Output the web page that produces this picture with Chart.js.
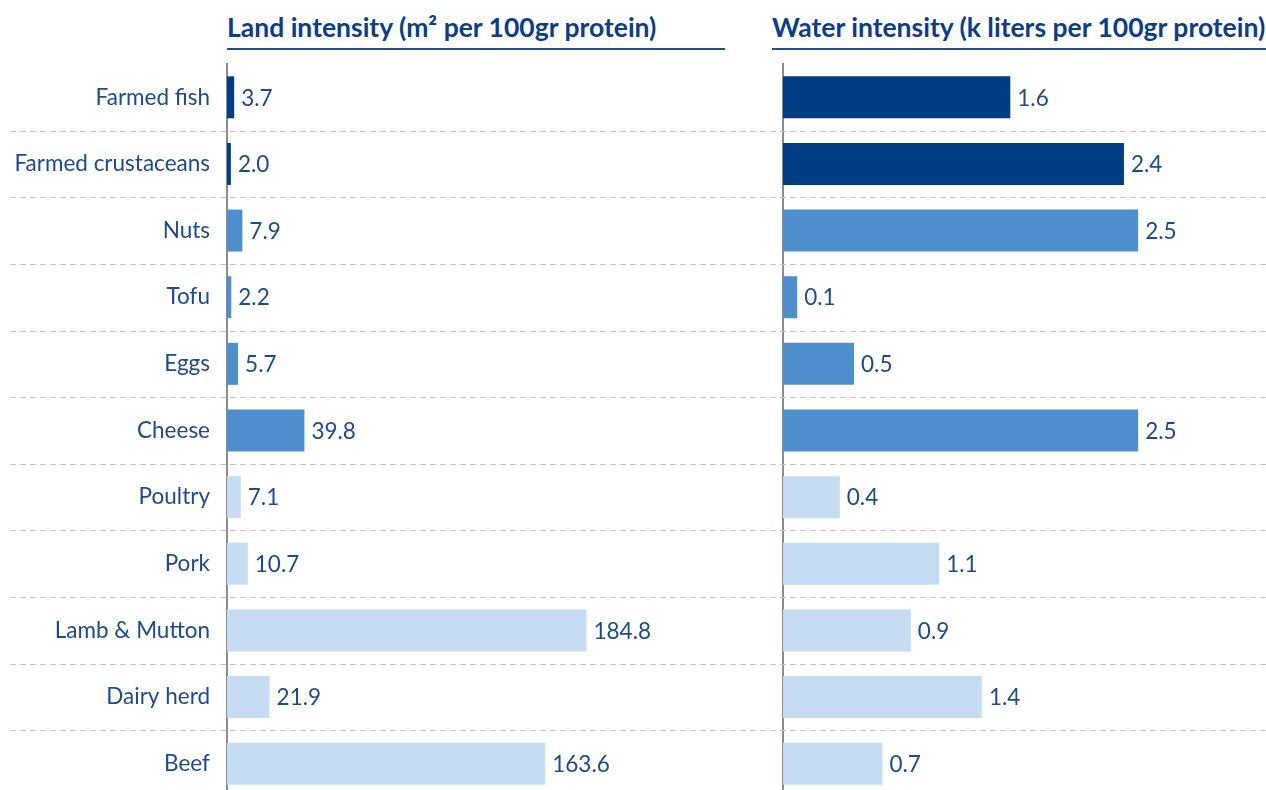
<!DOCTYPE html>
<html>
<head>
<meta charset="utf-8">
<script src="https://cdn.jsdelivr.net/npm/chart.js@4"></script>
<style>
    html, body { margin: 0; padding: 0; background: #ffffff; overflow: hidden; }
    body { width: 1266px; height: 790px; position: relative; font-family: Lato, "Noto Sans", sans-serif; }
    .panel-title {
        position: absolute;
        top: 12px;
        font-size: 26.5px;
        line-height: 30px;
        font-weight: bold;
        color: #0d3d84;
        white-space: nowrap;
        padding-bottom: 6px;
        border-bottom: 2px solid #1f4e8c;
    }
    #landTitle { left: 227px; width: 498px; }
    #waterTitle { left: 772px; width: 494px; }
    .chart-box { position: absolute; top: 0; height: 800px; }
    #landBox { left: 0; width: 770px; }
    #waterBox { left: 770px; width: 496px; }
</style>
</head>
<body>
<div class="panel-title" id="landTitle">Land intensity (m² per 100gr protein)</div>
<div class="panel-title" id="waterTitle">Water intensity (k liters per 100gr protein)</div>
<div class="chart-box" id="landBox"><canvas id="landChart"></canvas></div>
<div class="chart-box" id="waterBox"><canvas id="waterChart"></canvas></div>

<script>
// Food categories, top to bottom
const foods = ['Farmed fish', 'Farmed crustaceans', 'Nuts', 'Tofu', 'Eggs', 'Cheese',
               'Poultry', 'Pork', 'Lamb & Mutton', 'Dairy herd', 'Beef'];
// Which group each food belongs to (drives the bar shade)
const foodGroups = ['aquaculture', 'aquaculture', 'vegetarian', 'vegetarian', 'vegetarian', 'vegetarian',
                    'meat', 'meat', 'meat', 'meat', 'meat'];
// m2 per 100gr protein
const landIntensity = [3.7, 2.0, 7.9, 2.2, 5.7, 39.8, 7.1, 10.7, 184.8, 21.9, 163.6];
// k liters per 100gr protein
const waterIntensity = [1.6, 2.4, 2.5, 0.1, 0.5, 2.5, 0.4, 1.1, 0.9, 1.4, 0.7];

const groupColors = {
    aquaculture: '#003d82',
    vegetarian: '#4e8ecd',
    meat: '#c6dcf3'
};
const textColor = '#1c4a8a';
const labelFont = { family: 'Lato', size: 22.5 };

// Dashed separators between rows, running across the whole canvas
const rowSeparators = {
    id: 'rowSeparators',
    beforeDatasetsDraw(chart, args, opts) {
        const y = chart.scales.y;
        const ctx = chart.ctx;
        ctx.save();
        ctx.strokeStyle = '#c4c4c4';
        ctx.lineWidth = 1;
        ctx.setLineDash([6, 4]);
        for (let i = 0; i < foods.length - 1; i++) {
            const py = Math.round((y.getPixelForValue(i) + y.getPixelForValue(i + 1)) / 2) + 0.5;
            ctx.beginPath();
            ctx.moveTo(opts.startX || 0, py);
            ctx.lineTo(chart.width, py);
            ctx.stroke();
        }
        ctx.restore();
    }
};

// Value labels to the right of each bar
const valueLabels = {
    id: 'valueLabels',
    afterDatasetsDraw(chart) {
        const ctx = chart.ctx;
        const meta = chart.getDatasetMeta(0);
        const values = chart.data.datasets[0].data;
        ctx.save();
        ctx.fillStyle = textColor;
        ctx.font = `${labelFont.size}px ${labelFont.family}`;
        ctx.textAlign = 'left';
        ctx.textBaseline = 'middle';
        meta.data.forEach((bar, i) => {
            ctx.fillText(values[i].toFixed(1), bar.x + 7, bar.y + 1);
        });
        ctx.restore();
    }
};

function buildChart(canvasId, values, opts) {
    const ctx = document.getElementById(canvasId).getContext('2d');
    return new Chart(ctx, {
        type: 'bar',
        data: {
            labels: foods,
            datasets: [{
                data: values,
                backgroundColor: foodGroups.map(g => groupColors[g]),
                borderWidth: 0,
                barPercentage: 0.63,
                categoryPercentage: 1.0
            }]
        },
        options: {
            indexAxis: 'y',
            responsive: true,
            maintainAspectRatio: false,
            animation: false,
            layout: {
                padding: { top: 64, bottom: 3, left: 0, right: opts.padRight }
            },
            scales: {
                x: {
                    display: false,
                    min: 0,
                    max: opts.max
                },
                y: {
                    afterFit: (scale) => {
                        scale.width = opts.axisX;
                        // keep the label half-heights from shrinking the plot area
                        scale.paddingTop = 0;
                        scale.paddingBottom = 0;
                    },
                    grid: { display: false, drawTicks: false },
                    border: { display: true, color: '#8c8c8c', width: 2 },
                    ticks: {
                        display: opts.showLabels,
                        color: textColor,
                        font: labelFont,
                        padding: 17
                    }
                }
            },
            plugins: {
                legend: { display: false },
                tooltip: { enabled: false },
                rowSeparators: { startX: opts.sepStart }
            }
        },
        plugins: [rowSeparators, valueLabels]
    });
}

document.addEventListener('DOMContentLoaded', () => {
    buildChart('landChart', landIntensity, { max: 256, axisX: 227, padRight: 45, showLabels: true, sepStart: 10 });
    buildChart('waterChart', waterIntensity, { max: 3.4, axisX: 13, padRight: 0, showLabels: false, sepStart: 0 });
});
</script>
</body>
</html>
